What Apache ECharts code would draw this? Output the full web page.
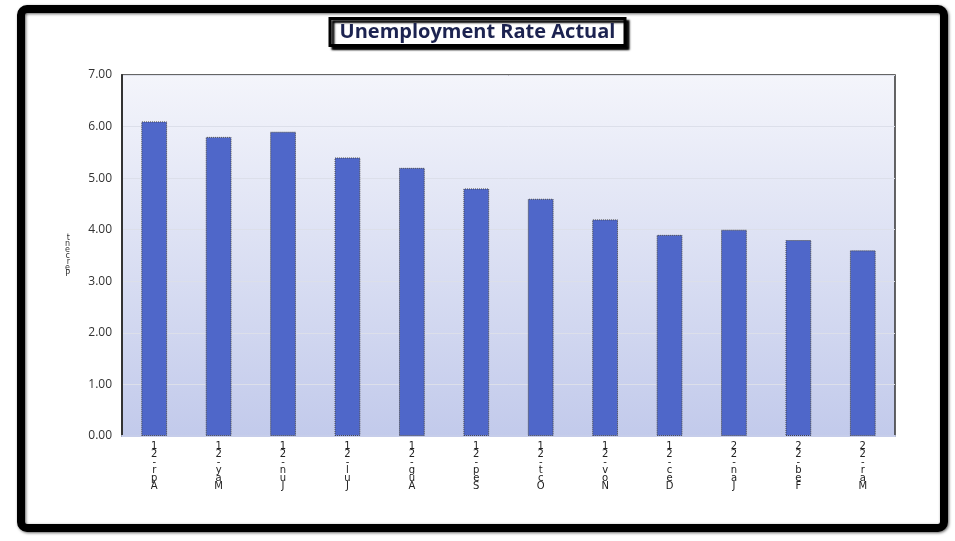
<!DOCTYPE html>
<html>
<head>
<meta charset="utf-8">
<script src="https://cdn.jsdelivr.net/npm/echarts@6/dist/echarts.min.js"></script>
<style>
  html, body { margin: 0; padding: 0; background: #fff; }
  #chart { width: 955px; height: 541px; }
</style>
</head>
<body>
<div id="chart"></div>
<script>
const months = ['Apr-21', 'May-21', 'Jun-21', 'Jul-21', 'Aug-21', 'Sep-21', 'Oct-21', 'Nov-21', 'Dec-21', 'Jan-22', 'Feb-22', 'Mar-22']
const unemploymentRate = [6.1, 5.8, 5.9, 5.4, 5.2, 4.8, 4.6, 4.2, 3.9, 4.0, 3.8, 3.6]
const yMin = 0
const yMax = 7
const yStep = 1

// labels in the original are stacked upright, read from bottom to top
const stack = (s) => s.split('').reverse().join('\n')

const chart = echarts.init(document.getElementById('chart'))

const option = {
  backgroundColor: '#fff',
  animation: false,
  graphic: [
    {
      type: 'rect',
      z: -10,
      shape: { x: 21, y: 9, width: 923, height: 519, r: 6 },
      style: {
        fill: '#fff',
        stroke: '#000',
        lineWidth: 8,
        shadowBlur: 3,
        shadowColor: 'rgba(0,0,0,0.6)',
        shadowOffsetX: 1,
        shadowOffsetY: 1
      }
    }
  ],
  title: {
    text: 'Unemployment Rate Actual',
    left: 'center',
    top: 18,
    padding: [4, 10, 4, 10],
    backgroundColor: '#fff',
    borderColor: '#000',
    borderWidth: 3,
    shadowColor: '#000',
    shadowBlur: 2,
    shadowOffsetX: 3,
    shadowOffsetY: 3,
    textStyle: {
      fontFamily: 'Open Sans',
      fontSize: 20,
      fontWeight: 'bold',
      color: '#1c2350'
    }
  },
  grid: {
    left: 122,
    right: 60,
    top: 75,
    bottom: 105,
    show: true,
    borderColor: '#333',
    borderWidth: 1.5,
    backgroundColor: new echarts.graphic.LinearGradient(0, 0, 0, 1, [
      { offset: 0, color: '#f4f5fb' },
      { offset: 1, color: '#c2caeb' }
    ])
  },
  xAxis: {
    type: 'category',
    data: months,
    // covers the dark grid border on the bottom edge, which is open in the original
    axisLine: { show: true, lineStyle: { color: '#c6cdea', width: 2 } },
    axisTick: { show: false },
    axisLabel: {
      interval: 0,
      margin: 6,
      color: '#222',
      fontFamily: 'DejaVu Sans',
      fontSize: 10,
      lineHeight: 8,
      formatter: stack
    }
  },
  yAxis: {
    type: 'value',
    min: yMin,
    max: yMax,
    interval: yStep,
    name: stack('Percent'),
    nameLocation: 'middle',
    nameGap: 52,
    nameRotate: 0,
    nameTextStyle: { fontSize: 8, lineHeight: 6, color: '#333', fontFamily: 'DejaVu Sans' },
    axisLine: { show: true, lineStyle: { color: '#333', width: 2 } },
    axisTick: { show: false },
    axisLabel: {
      margin: 10,
      color: '#333',
      fontFamily: 'Open Sans',
      fontSize: 12,
      formatter: (v) => v.toFixed(2)
    },
    splitLine: { lineStyle: { color: '#dcdfea', width: 1 } }
  },
  series: [
    {
      name: 'Unemployment Rate',
      type: 'bar',
      barWidth: '40%',
      data: unemploymentRate,
      itemStyle: {
        color: '#4f67c9',
        borderColor: '#444',
        borderWidth: 1,
        borderType: 'dotted'
      }
    }
  ]
}

chart.setOption(option)
</script>
</body>
</html>
